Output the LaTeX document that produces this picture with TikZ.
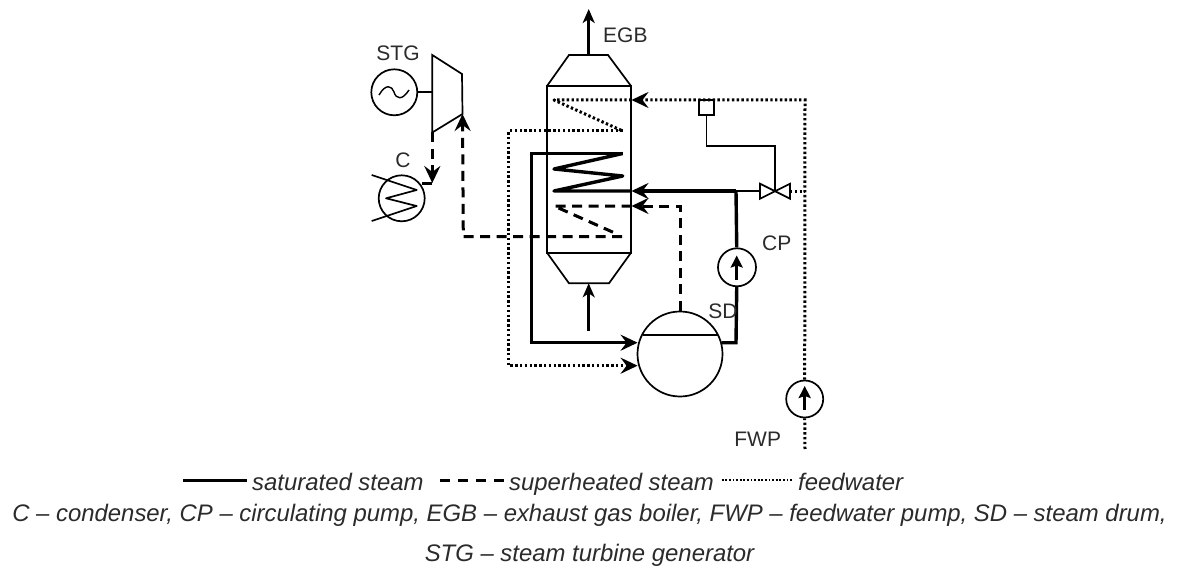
\documentclass[tikz,border=0pt]{standalone}
\usepackage{fontspec}
\setmainfont{Liberation Sans}
\usetikzlibrary{arrows.meta}
\definecolor{txt}{HTML}{2B2B2B}
\tikzset{
  thinline/.style={line width=1.7pt,black,line join=miter},
  sat/.style={line width=3.4pt,black},
  sup/.style={line width=3pt,black,dash pattern=on 10pt off 6.5pt},
  feed/.style={line width=3pt,black,dash pattern=on 2.4pt off 2.4pt},
  tip/.style={-{Stealth[length=17pt,width=16pt,inset=6pt]}},
  smalltip/.style={-{Stealth[length=14pt,width=12pt,inset=4pt]}},
  apparatus/.style={circle,draw,line width=1.7pt,fill=white,inner sep=0pt},
  lab/.style={text=txt,font=\fontsize{21}{24}\selectfont,inner sep=0pt},
  leg/.style={text=txt,font=\fontsize{23.9}{28}\selectfont\itshape,inner sep=0pt},
}
\begin{document}
\begin{tikzpicture}[x=1pt,y=-1pt]
\useasboundingbox (0,0) rectangle (1178,567);
\fill[white] (0,0) rectangle (1178,567);

% apparatus
\node[apparatus,minimum size=46pt] (gen) at (394.3,92.3) {};
\node[apparatus,minimum size=46pt] (cond) at (401.7,198.3) {};
\node[apparatus,minimum size=85pt] (drum) at (680,354) {};
\node[apparatus,minimum size=38pt] (cp) at (737,267.3) {};
\node[apparatus,minimum size=37pt] (fwp) at (804.7,399) {};

% boiler column
\draw[thinline] (547,86) rectangle (631,252.7);
\draw[thinline] (547,86) -- (569,55) -- (608,55) -- (631,86);
\draw[thinline] (547,252.7) -- (569,283.3) -- (609,283.3) -- (631,252.7);
\coordinate (egbtop) at (588.7,55);
\coordinate (egbout) at (588.7,9);
\coordinate (egbbot) at (588.7,283.3);
\coordinate (egbin) at (588.7,331);
\draw[line width=3pt,smalltip] (egbtop) -- (egbout);
\draw[line width=3pt,smalltip] (egbin) -- (egbbot);

% turbine
\coordinate (tA) at (432.3,55);
\coordinate (tB) at (462,74);
\coordinate (tC) at (462.5,114);
\coordinate (tD) at (432.3,132.5);
\coordinate (tShaft) at (432.3,92.3);
\draw[thinline] (tA) -- (tB) -- (tC) -- (tD) -- cycle;
\draw[thinline] (gen) -- (tShaft);
\draw[line width=1.4pt] (379,95) .. controls (386,83) and (392,86) .. (394,92)
  .. controls (396,99) and (402,101) .. (409,90);

% condenser coil
\draw[thinline,line join=round] (371.7,175) -- (416.7,190) -- (386,198.3) -- (416.7,206) -- (371.7,221);

% turbine to condenser
\coordinate (cIn) at (432.3,183);
\coordinate (cOut) at (421.7,183);
\draw[sup,tip] (tD) -- (cIn);
\draw[line width=3pt] (cIn) -- (cOut);

% superheated loop
\coordinate (sA) at (680,206);
\coordinate (sB) at (631.5,206);
\coordinate (sC) at (554,206);
\coordinate (sD) at (617,234);
\coordinate (sE) at (622,236.7);
\coordinate (sF) at (463.3,236.7);
\draw[sup,tip] (drum.north) -- (sA) -- (sB);
\draw[sup,line join=round] (sB) -- (sC) -- (sD);
\draw[sup,tip] (sE) -- (sF) -- (tC);

% saturated loop
\coordinate (mA) at (622.7,153.5);
\coordinate (mB) at (531.7,153.5);
\coordinate (mC) at (531.7,342.7);
\coordinate (mD) at (637.6,342.7);
\draw[sat,tip,line join=miter] (mA) -- (mB) -- (mC) -- (mD);
\draw[sat,line join=round] (mA) -- (554,169) -- (622.7,176) -- (554,191) -- (631.5,191);
\coordinate (jn) at (736,191);
\coordinate (colIn) at (631.5,191);
\coordinate (vL) at (760,191);
\draw[sat,tip] (jn) -- (colIn);
\draw[line width=2.4pt] (vL) -- (jn);
\draw[sat] (jn) -- (cp);
\coordinate (cpDn) at (736,342.7);
\coordinate (drumOut) at (721.5,342.7);
\draw[sat,line join=miter] (cp) -- (cpDn) -- (drumOut);

% drum level
\coordinate (lvlL) at (642.5,335);
\coordinate (lvlR) at (718,335);
\draw[line width=1.2pt] (lvlL) -- (lvlR);

% valve and control
\coordinate (vC) at (775,191);
\coordinate (vR) at (790,191);
\draw[thinline,fill=white] (760,183.7) -- (790,198.7) -- (790,183.7) -- (760,198.7) -- cycle;
\node[draw,line width=1.7pt,minimum size=15pt,inner sep=0pt] (ctrl) at (706.6,107.5) {};
\coordinate (cMid) at (706.6,145.7);
\coordinate (cMid2) at (775,145.7);
\draw[thinline] (ctrl.south) -- (cMid) -- (cMid2) -- (vC);

% feedwater
\coordinate (fBot) at (805,449);
\coordinate (fCor) at (805,100);
\coordinate (fIn) at (631.5,100);
\coordinate (fV) at (805,191);
\draw[feed] (fBot) -- (fwp.south);
\draw[feed,tip] (fwp.north) -- (fCor) -- (fIn);
\draw[feed] (vR) -- (fV);
\coordinate (fa) at (554,100);
\coordinate (fb) at (622.7,131);
\coordinate (fc) at (508.7,131);
\coordinate (fd) at (508.7,365.7);
\coordinate (fe) at (637.6,365.7);
\draw[feed,line join=round] (fIn) -- (fa) -- (fb);
\draw[feed,tip] (fb) -- (fc) -- (fd) -- (fe);

% pump arrows
\coordinate (cpa) at (736.7,280);
\coordinate (cpb) at (736.7,255.5);
\coordinate (fwa) at (804.7,410);
\coordinate (fwb) at (804.7,386);
\draw[line width=3pt,-{Stealth[length=12pt,width=12pt,inset=2pt]}] (cpa) -- (cpb);
\draw[line width=3pt,-{Stealth[length=12pt,width=12pt,inset=2pt]}] (fwa) -- (fwb);

% labels
\node[lab] (lstg) at (398,53) {STG};
\node[lab,anchor=west] (legb) at (603,35) {EGB};
\node[lab] (lc) at (403,160) {C};
\node[lab] (lcp) at (776.7,243.3) {CP};
\node[lab] (lsd) at (723,311.7) {SD};
\node[lab] (lfwp) at (757.7,439.3) {FWP};

% legend
\coordinate (l1a) at (183,480);
\coordinate (l1b) at (247,480);
\coordinate (l2a) at (440,480);
\coordinate (l2b) at (505,480);
\coordinate (l3a) at (721.7,480);
\coordinate (l3b) at (793,480);
\draw[line width=3pt] (l1a) -- (l1b);
\draw[line width=3pt,dash pattern=on 10pt off 8pt] (l2a) -- (l2b);
\draw[line width=2pt,dash pattern=on 1.8pt off 1.8pt] (l3a) -- (l3b);
\node[leg,anchor=base west] (t1) at (252,490) {saturated steam};
\node[leg,anchor=base west] (t2) at (509,490) {superheated steam};
\node[leg,anchor=base west] (t3) at (798,490) {feedwater};
\node[leg,anchor=base] (t4) at (589.5,521) {C – condenser, CP – circulating pump, EGB – exhaust gas boiler, FWP – feedwater pump, SD – steam drum,};
\node[leg,anchor=base] (t5) at (589.5,561) {STG – steam turbine generator};
\end{tikzpicture}
\end{document}
